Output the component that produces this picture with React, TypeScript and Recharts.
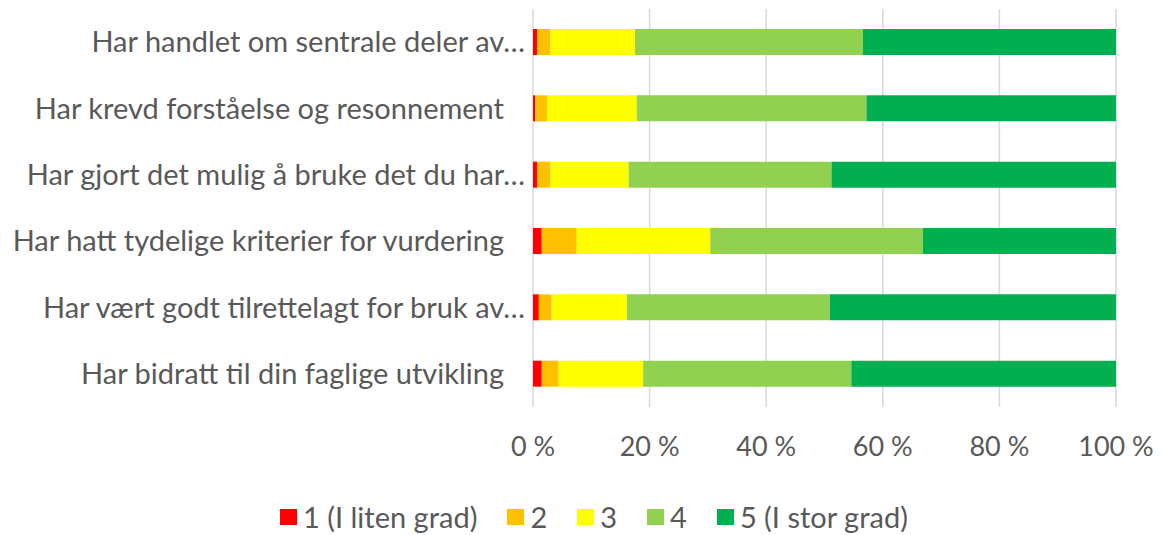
import { BarChart, Bar, XAxis, YAxis, CartesianGrid, Legend } from 'recharts';

const categories = [
  'Har handlet om sentrale deler av…',
  'Har krevd forståelse og resonnement',
  'Har gjort det mulig å bruke det du har…',
  'Har hatt tydelige kriterier for vurdering',
  'Har vært godt tilrettelagt for bruk av…',
  'Har bidratt til din faglige utvikling',
];

const grade1 = [0.7, 0.4, 0.7, 1.5, 1.0, 1.5];
const grade2 = [2.3, 2.0, 2.3, 6.0, 2.2, 2.9];
const grade3 = [14.5, 15.4, 13.4, 22.9, 12.9, 14.5];
const grade4 = [39.1, 39.4, 34.8, 36.5, 34.8, 35.7];
const grade5 = [43.4, 42.8, 48.8, 33.1, 49.1, 45.4];

const xTicks = [0, 20, 40, 60, 80, 100];

const series = [
  { key: 'g1', name: '1 (I liten grad)', color: '#FF0000' },
  { key: 'g2', name: '2', color: '#FFC000' },
  { key: 'g3', name: '3', color: '#FFFF00' },
  { key: 'g4', name: '4', color: '#92D050' },
  { key: 'g5', name: '5 (I stor grad)', color: '#00B050' },
];

const data = categories.map((name, i) => ({
  name,
  g1: grade1[i],
  g2: grade2[i],
  g3: grade3[i],
  g4: grade4[i],
  g5: grade5[i],
}));

const FONT = 'Lato, "Open Sans", sans-serif';
const TEXT = '#595959';

// Excel leaves some room at the end of labels that were not cut off
const CategoryTick = ({ x, y, payload }: any) => {
  const label = String(payload.value);
  const shift = label.endsWith('…') ? 0 : -21;
  return (
    <text x={x + shift} y={y} dy="0.355em" textAnchor="end" fill={TEXT} fontSize={29} fontFamily={FONT}>
      {label}
    </text>
  );
};

const LegendContent = ({ payload }: any) => (
  <div style={{ display: 'flex', paddingLeft: 280, fontFamily: FONT, fontSize: 29, color: TEXT, lineHeight: '36px' }}>
    {(payload || []).map((p: any) => (
      <div key={p.value} style={{ display: 'flex', alignItems: 'center', marginRight: 30 }}>
        <span style={{ width: 17, height: 16, background: p.color, marginRight: 6, display: 'inline-block' }} />
        <span>{p.value}</span>
      </div>
    ))}
  </div>
);

export default function App() {
  return (
    <div style={{ position: 'absolute', left: 0, top: 0, background: '#fff' }}>
      <BarChart
        width={1163}
        height={535}
        data={data}
        layout="vertical"
        barSize={26}
        margin={{ top: 9, right: 47, left: 0, bottom: 0 }}
      >
        <CartesianGrid horizontal={false} stroke="#d9d9d9" strokeWidth={1.5} />
        <XAxis
          type="number"
          domain={[0, 100]}
          ticks={xTicks}
          tickFormatter={(v) => `${v} %`}
          axisLine={false}
          tickLine={false}
          tickSize={0}
          tickMargin={30}
          height={92}
          tick={{ fill: TEXT, fontSize: 27, fontFamily: FONT }}
        />
        <YAxis
          type="category"
          dataKey="name"
          width={533}
          axisLine={false}
          tickLine={false}
          tick={<CategoryTick />}
        />
        <Legend verticalAlign="bottom" height={36} content={<LegendContent />} />
        {series.map((s) => (
          <Bar key={s.key} dataKey={s.key} name={s.name} stackId="a" fill={s.color} isAnimationActive={false} />
        ))}
      </BarChart>
    </div>
  );
}
